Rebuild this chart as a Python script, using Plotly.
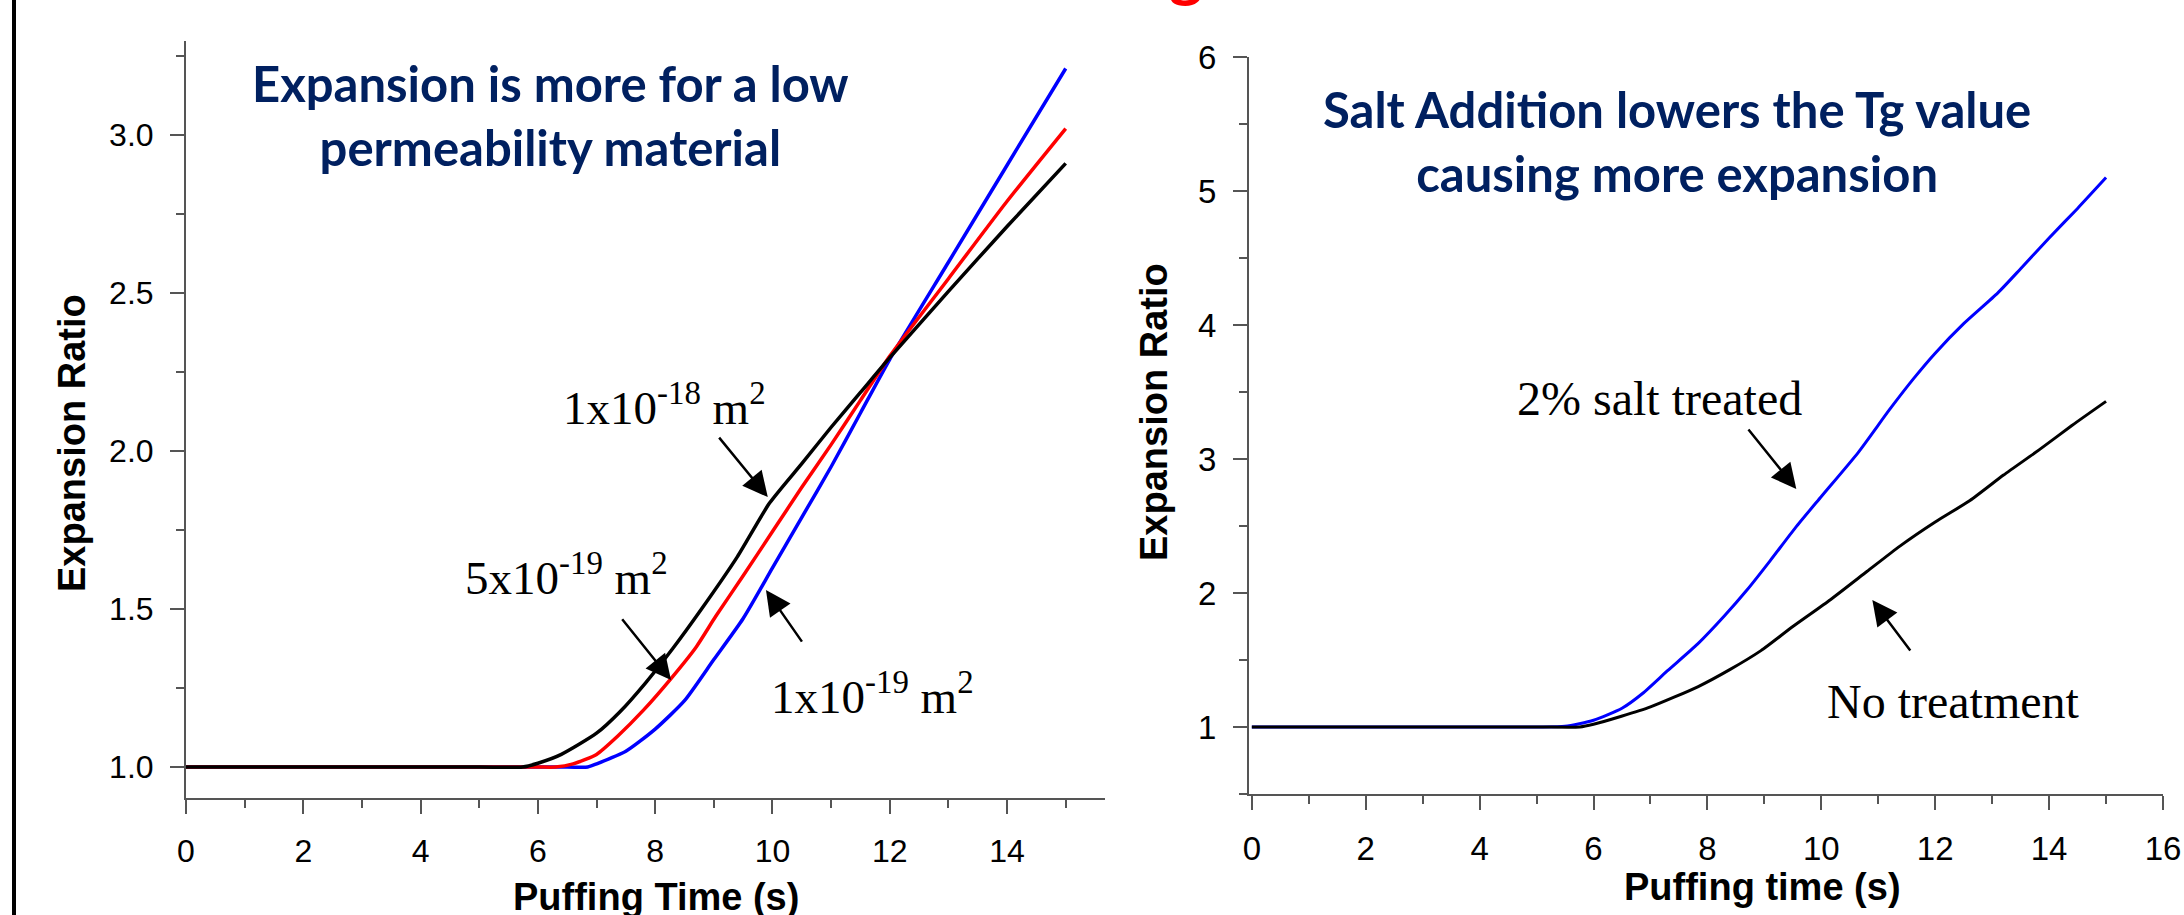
import plotly.graph_objects as go

# ---------------- data ----------------
# Left panel: permeability study
perm_black_x = [0, 5.0, 5.74, 6.0, 6.4, 7.0, 7.4, 7.83, 8.3, 8.79, 9.4, 9.95, 10.5, 11.0, 11.5, 12.0, 13.0, 14.0, 15.0]
perm_black_y = [1.0, 1.0, 1.0, 1.012, 1.04, 1.107, 1.175, 1.265, 1.375, 1.50, 1.665, 1.835, 1.96, 2.075, 2.185, 2.295, 2.505, 2.71, 2.91]

perm_red_x = [0, 6.0, 6.3, 6.6, 7.0, 7.35, 7.8, 8.27, 8.7, 9.03, 9.5, 10.0, 10.5, 11.0, 11.5, 12.0, 13.0, 14.0, 15.0]
perm_red_y = [1.0, 1.0, 1.0, 1.01, 1.04, 1.096, 1.18, 1.28, 1.38, 1.476, 1.605, 1.745, 1.885, 2.02, 2.16, 2.30, 2.545, 2.79, 3.02]

perm_blue_x = [0, 6.5, 6.85, 7.0, 7.5, 8.0, 8.5, 9.0, 9.5, 10.0, 10.5, 11.0, 11.5, 12.0, 13.0, 14.0, 15.0]
perm_blue_y = [1.0, 1.0, 1.0, 1.01, 1.05, 1.12, 1.21, 1.34, 1.47, 1.63, 1.79, 1.95, 2.12, 2.29, 2.597, 2.904, 3.21]

# Right panel: salt treatment study
salt_blue_x = [0, 5.0, 5.5, 6.0, 6.5, 6.86, 7.3, 7.83, 8.3, 8.69, 9.1, 9.55, 10.0, 10.65, 11.2, 11.62, 12.0, 12.5, 13.1, 13.5, 14.0, 14.5, 15.0]
salt_blue_y = [1.0, 1.0, 1.005, 1.05, 1.14, 1.25, 1.42, 1.62, 1.83, 2.02, 2.24, 2.49, 2.72, 3.05, 3.37, 3.60, 3.79, 4.01, 4.24, 4.42, 4.65, 4.87, 5.10]

salt_black_x = [0, 5.0, 5.76, 6.0, 6.49, 7.0, 7.83, 8.4, 8.94, 9.5, 10.16, 10.8, 11.38, 12.0, 12.61, 13.2, 13.83, 14.4, 15.0]
salt_black_y = [1.0, 1.0, 1.0, 1.02, 1.08, 1.15, 1.30, 1.43, 1.57, 1.75, 1.95, 2.16, 2.35, 2.53, 2.69, 2.88, 3.07, 3.25, 3.43]

left_title = "Expansion is more for a low<br>permeability material"
right_title = "Salt Addition lowers the Tg value<br>causing more expansion"
left_labels = ["1x10<sup>-18</sup> m<sup>2</sup>", "5x10<sup>-19</sup> m<sup>2</sup>", "1x10<sup>-19</sup> m<sup>2</sup>"]
right_labels = ["2% salt treated", "No treatment"]

# ---------------- styles ----------------
SANS = "Liberation Sans, Arial, sans-serif"
SERIF = "Liberation Serif, Times New Roman, serif"
TITLE_FONT = "Lato, Calibri, sans-serif"
NAVY = "#002060"
AXC = "#555555"

fig = go.Figure()

LS = dict(shape="spline", smoothing=0.6)
fig.add_trace(go.Scatter(x=perm_blue_x, y=perm_blue_y, mode="lines",
                         line=dict(color="#0000FF", width=3.5, **LS), xaxis="x", yaxis="y"))
fig.add_trace(go.Scatter(x=perm_red_x, y=perm_red_y, mode="lines",
                         line=dict(color="#FF0000", width=3.5, **LS), xaxis="x", yaxis="y"))
fig.add_trace(go.Scatter(x=perm_black_x, y=perm_black_y, mode="lines",
                         line=dict(color="#000000", width=3.5, **LS), xaxis="x", yaxis="y"))

fig.add_trace(go.Scatter(x=salt_blue_x, y=salt_blue_y, mode="lines",
                         line=dict(color="#0000FF", width=3, **LS), xaxis="x2", yaxis="y2"))
fig.add_trace(go.Scatter(x=salt_black_x, y=salt_black_y, mode="lines",
                         line=dict(color="#000000", width=3, **LS), xaxis="x2", yaxis="y2"))

W, H = 2184, 915


def axis_common(size):
    return dict(showline=True, linecolor=AXC, linewidth=2, mirror=False,
                showgrid=False, zeroline=False, ticks="outside", ticklen=14,
                tickwidth=2, tickcolor=AXC, ticklabelstandoff=10, automargin=False,
                tickfont=dict(family=SANS, size=size, color="black"))


fig.update_layout(
    template="none",
    width=W, height=H,
    margin=dict(l=0, r=0, t=0, b=0, pad=0, autoexpand=False),
    paper_bgcolor="white", plot_bgcolor="white",
    showlegend=False,
    xaxis=dict(domain=[186 / W, 1105 / W], range=[0, 15.67], anchor="y",
               tick0=0, dtick=2,
               minor=dict(ticks="outside", ticklen=8, tickwidth=1.5, tickcolor=AXC, dtick=1),
               **axis_common(32)),
    yaxis=dict(domain=[1 - 798 / H, 1 - 41 / H], range=[0.902, 3.297], anchor="x",
               tick0=1.0, dtick=0.5, tickformat=".1f",
               minor=dict(ticks="outside", ticklen=8, tickwidth=1.5, tickcolor=AXC, dtick=0.25),
               **axis_common(32)),
    xaxis2=dict(domain=[1249 / W, 2163 / W], range=[-0.05, 16], anchor="y2",
                tick0=0, dtick=2,
                minor=dict(ticks="outside", ticklen=8, tickwidth=1.5, tickcolor=AXC, dtick=1),
                **axis_common(33)),
    yaxis2=dict(domain=[1 - 794 / H, 1 - 57 / H], range=[0.5, 6], anchor="x2",
                tick0=1, dtick=1,
                minor=dict(ticks="outside", ticklen=8, tickwidth=1.5, tickcolor=AXC, dtick=0.5),
                **axis_common(33)),
)

ann = []
# panel titles
ann.append(dict(text="<b>" + left_title + "</b>", x=6.223, y=3.064, xref="x", yref="y",
                showarrow=False, xanchor="center", yanchor="middle",
                font=dict(family=TITLE_FONT, size=49, color=NAVY)))
ann.append(dict(text="<b>" + right_title + "</b>", x=7.469, y=5.37, xref="x2", yref="y2",
                showarrow=False, xanchor="center", yanchor="middle",
                font=dict(family=TITLE_FONT, size=49, color=NAVY)))

# axis titles
ann.append(dict(text="<b>Expansion Ratio</b>", x=72 / W, y=1 - 443 / H, xref="paper", yref="paper",
                textangle=-90, showarrow=False, xanchor="center", yanchor="middle",
                font=dict(family=SANS, size=38, color="black")))
ann.append(dict(text="<b>Expansion Ratio</b>", x=1154 / W, y=1 - 412 / H, xref="paper", yref="paper",
                textangle=-90, showarrow=False, xanchor="center", yanchor="middle",
                font=dict(family=SANS, size=38, color="black")))
ann.append(dict(text="<b>Puffing Time (s)</b>", x=656 / W, y=1 - 897 / H, xref="paper", yref="paper",
                showarrow=False, xanchor="center", yanchor="middle",
                font=dict(family=SANS, size=38, color="black")))
ann.append(dict(text="<b>Puffing time (s)</b>", x=1762 / W, y=1 - 887 / H, xref="paper", yref="paper",
                showarrow=False, xanchor="center", yanchor="middle",
                font=dict(family=SANS, size=38, color="black")))

# serif curve labels
left_pos = [(8.167, 2.146), (6.496, 1.608), (11.714, 1.234)]
for t, (lx, ly) in zip(left_labels, left_pos):
    ann.append(dict(text=t, x=lx, y=ly, xref="x", yref="y", showarrow=False,
                    xanchor="center", yanchor="middle",
                    font=dict(family=SERIF, size=47, color="black")))
right_pos = [(7.153, 3.455), (12.32, 1.187)]
for t, (lx, ly) in zip(right_labels, right_pos):
    ann.append(dict(text=t, x=lx, y=ly, xref="x2", yref="y2", showarrow=False,
                    xanchor="center", yanchor="middle",
                    font=dict(family=SERIF, size=48, color="black")))

# arrows (tip x,y ; tail ax,ay)
left_arrows = [((9.92, 1.854), (9.07, 2.047)),
               ((8.27, 1.275), (7.417, 1.472)),
               ((9.889, 1.560), (10.52, 1.392))]
for (tx, ty), (sx, sy) in left_arrows:
    ann.append(dict(text="", x=tx, y=ty, ax=sx, ay=sy, xref="x", yref="y", axref="x", ayref="y",
                    showarrow=True, arrowhead=2, arrowsize=2.0, arrowwidth=2.5,
                    arrowcolor="black", standoff=0, startstandoff=0))
right_arrows = [((9.561, 2.776), (8.699, 3.231)),
                ((10.896, 1.948), (11.582, 1.560))]
for (tx, ty), (sx, sy) in right_arrows:
    ann.append(dict(text="", x=tx, y=ty, ax=sx, ay=sy, xref="x2", yref="y2", axref="x2", ayref="y2",
                    showarrow=True, arrowhead=2, arrowsize=2.0, arrowwidth=2.5,
                    arrowcolor="black", standoff=0, startstandoff=0))

# cut-off red slide title fragment at the very top (only the descender shows)
ann.append(dict(text="<b>g</b>", x=1186 / W, y=1, xref="paper", yref="paper",
                xanchor="center", yanchor="bottom", yshift=-11, showarrow=False,
                font=dict(family=TITLE_FONT, size=64, color="#FF0000")))

fig.update_layout(annotations=ann)

# left slide border line
fig.add_shape(type="line", xref="paper", yref="paper", x0=14 / W, x1=14 / W, y0=0, y1=1,
              line=dict(color="black", width=4))

fig.write_html("out.html")
